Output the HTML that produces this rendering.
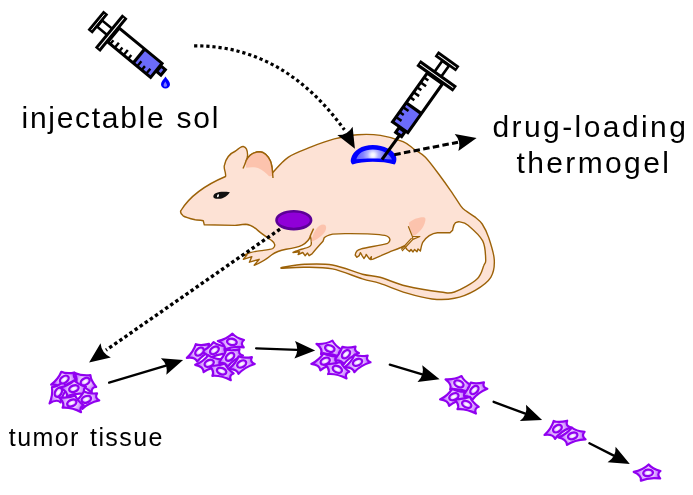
<!DOCTYPE html><html><head><meta charset="utf-8"><style>html,body{margin:0;padding:0;background:#fff;}svg{display:block;will-change:transform;}text{font-family:"Liberation Sans",sans-serif;fill:#000;}</style></head><body>
<svg width="693" height="495" viewBox="0 0 693 495">
<defs>
<radialGradient id="cellg" gradientUnits="userSpaceOnUse" cx="0" cy="0" r="13"><stop offset="0" stop-color="#fff"/><stop offset="0.45" stop-color="#e8c4ff"/><stop offset="1" stop-color="#b050ff"/></radialGradient>
<radialGradient id="nucg" cx="50%" cy="50%" r="50%"><stop offset="0" stop-color="#fff"/><stop offset="0.35" stop-color="#f6eaff"/><stop offset="1" stop-color="#c27cff"/></radialGradient>
<radialGradient id="gelg" gradientUnits="userSpaceOnUse" cx="373" cy="155" r="17"><stop offset="0" stop-color="#fff"/><stop offset="0.12" stop-color="#f0f0ff"/><stop offset="0.32" stop-color="#b4b4ff"/><stop offset="0.6" stop-color="#8282ff"/><stop offset="1" stop-color="#6262ff"/></radialGradient>
<radialGradient id="tumg" cx="50%" cy="50%" r="50%"><stop offset="0" stop-color="#9a00e0"/><stop offset="1" stop-color="#8800d0"/></radialGradient>
</defs>
<path d="M181,210.5 C188,199 203,186 225.5,176.5 C226.5,173 223,168 224.5,165 C226,158 231,153 235.6,151 C239,148 241.5,146.3 243.3,146.5 C246,147 247.5,150 247.6,155 C247.5,157 247,159 246.1,160.7 C248.5,156 253,152 259.9,151.8 C264,152 268,156 270.6,161.4 C272,165 272.5,169 272.7,172.7 C275.3,170.1 281.7,161.6 288.1,157.3 C294.5,153.0 303.5,150.0 311.2,146.9 C318.9,143.8 326.6,140.9 334.3,138.9 C342.0,136.9 349.7,135.3 357.4,134.7 C365.1,134.1 372.9,134.2 380.5,135.4 C388.1,136.6 397.4,139.3 403,141.6 C408.6,143.9 410.5,146.6 414.2,149.2 C417.9,151.8 421.0,152.8 425.4,157.3 C429.8,161.9 436.3,170.9 440.5,176.5 C444.7,182.1 447.2,185.7 450.6,190.6 C454.0,195.5 458.2,202.4 460.7,205.8 C463.2,209.2 463.4,209.0 465.8,210.8 C468.2,212.7 472.1,214.7 474.8,216.9 C477.5,219.1 479.9,220.5 482.2,224 C484.5,227.5 486.8,231.9 488.8,237.9 C490.8,243.9 494.0,253.4 494.3,260 C494.6,266.6 494.0,272.2 490.8,277.3 C487.6,282.4 481.2,286.8 475.2,290.3 C469.1,293.8 461.7,296.9 454.5,298.3 C447.3,299.8 440.1,299.9 432,299 C423.9,298.1 414.7,295.5 406,292.9 C397.3,290.3 387.3,285.7 380,283.4 C372.7,281.1 370.3,281.3 362.4,278.9 C354.5,276.5 342.0,270.8 332.4,268.9 C322.8,267.0 313.2,267.4 304.6,267.3 C296.0,267.2 284.9,268.1 281,268.2 L281,267.6 C284.9,267.1 296.0,264.7 304.6,264.3 C313.2,263.9 322.8,263.4 332.4,265 C342.0,266.6 354.5,272.1 362.4,274.2 C370.3,276.2 372.7,275.3 380,277.3 C387.3,279.3 395.9,283.6 406,286 C416.1,288.4 432.5,291.0 440.6,292 C448.7,293.0 448.4,294.2 454.5,292 C460.6,289.8 472.1,283.5 477,279 C481.9,274.5 482.4,268.4 483.9,265.2 C485.3,261.9 485.9,263.6 485.7,259.5 C485.5,255.4 485.6,246.6 482.7,240.9 C479.8,235.2 471.8,228.4 468,225.2 C464.2,222.0 461.8,222.3 459.7,221.9 C457.6,221.5 456.3,222.5 455.6,222.6 C453,225 453,229 452.6,230.2 L450,232.7 L437.4,232.7 C432,233 426,237 422.7,242.3 C421.5,245 421,248 420.4,251 L418,249 L417,251.8 L414.5,249.5 L413,252 L411,249.5 L409.5,251.5 L407,249.5 L404.3,245.8 L400.8,247.5 C396,249.5 392,251 389.3,252.1 C386,253.5 383,255 380,256.2 L373.1,259.1 L370.8,259.6 L371.4,256.8 L369.6,259.1 L367.9,256.8 L366.2,254.4 L365.6,256.2 L363.9,258.5 L362.1,255.6 L360.4,252.7 L359.2,255.6 L356.9,257.3 L355.2,255 C355.5,253 356,252 356.9,251 C358,250 359,249.5 360.4,249.2 C368,247 378,246 387.7,243.3 C391,241 391,237 384.8,235.4 C378,234 360,233.5 345,233.6 L332.7,234.1 C329,235 326,236 324.2,237.7 L323,241.2 C319,245.5 315,250 312,253.9 L309.1,255.7 L307.5,253 L305.1,255.7 L302.8,252.5 L298.1,254.5 L299.5,251.8 L293,252.5 L296.4,251 C299,250 301,249.2 303.3,248.7 C306,248 309.5,247.5 311,245 C312,242 311,239 310.3,236 C309.5,239.5 306,243 302.2,245.2 C298,247.5 292,248.5 286,249.3 C280,250.5 275,252.5 271.8,254.8 C268,258 263,262 254.2,265.3 L259.2,259.3 L249.4,262.2 L251.8,256.6 L243.4,259.3 L247,254.8 L243.8,255.2 L250.2,252.7 C254,251.5 258,251 261.3,250.6 C266,250 271,249.5 272.8,248.5 C276,246 275,243 271.8,240.6 C268,238 262,234 258.1,230.6 C254,227 250,224.5 245.5,224.3 C240,224.5 238,225.4 235,225.4 L204.3,224.8 L203.3,220.8 C200,220 197,220 195.2,219.8 C190,218.5 185,217 183.1,215.8 C181,214 180,212 181,210.5 Z" fill="#fde2d5" stroke="#9c6208" stroke-width="1.4" stroke-linejoin="round"/>
<path d="M246.1,167.8 L246.1,160.7 C248.5,156 253,152 259.9,151.8 C264,152 268,156 270.6,161.4 C272,165 272.5,170 272.7,176 L269.1,176.3 C266,173 262,169.5 258,168 C254,166.8 250,167 246.1,167.8 Z" fill="#fcc3ad"/>
<path d="M246.1,160.7 C248.5,156 253,152 259.9,151.8 C264,152 268,156 270.6,161.4 C272,165 272.5,170 273,178" fill="none" stroke="#9c6208" stroke-width="1.4"/>
<path d="M246.1,160.7 C245,164 244,166.5 243,168.5" fill="none" stroke="#9c6208" stroke-width="1.4"/>
<path d="M311.5,242 C312,236 315,229 319.5,225.8 C323,223.5 327,224.5 326,229 C325,233.5 319,238.5 311.5,242 Z" fill="#fcc3ad"/>
<path d="M408.8,223 C412,219.5 419,217 424,217.3 C426.5,218 425.5,222 423,227 C420.5,231 416.5,235 413,235.8 C411,232 409.3,227 408.8,223 Z" fill="#fcc3ad"/>
<path d="M313.6,228.6 C312.5,231 311,234 310.3,236" fill="none" stroke="#9c6208" stroke-width="1.4"/>
<path d="M408.3,226.2 L412.4,236.5 L419.9,236.5 L412.9,239.4 L402,251 M412.4,236.5 L412.9,239.4 M411.6,238.2 L401.2,249.5" fill="none" stroke="#9c6208" stroke-width="1.2" stroke-linejoin="round"/>
<path d="M213.3,196.2 C214,192.6 219.5,190.9 229.9,192.2 C227.5,195.6 224,198.6 219,198.8 C215.5,199 213.1,198.2 213.3,196.2 Z" fill="#111"/>
<ellipse cx="218" cy="195.8" rx="0.9" ry="1.6" fill="#fff" transform="rotate(20 218 195.8)"/>
<ellipse cx="293.8" cy="220.2" rx="17.3" ry="8.9" fill="#9000d8" stroke="#5c0096" stroke-width="2.6"/>
<path d="M351,158.8 C353,150 362,145 372.8,144.9 C384,145 394,150 396,156.5 C397,160 396,163 394.5,164.6 C388,162.5 380,161.8 372.8,161.8 C365,161.8 358,162.8 352.5,164.6 C350.5,163 350.5,160.5 351,158.8 Z" fill="#0000ff"/>
<path d="M356.3,159.3 C358,153 364,149.4 372.8,149.4 C382,149.4 389,153 392,159.6 C386,158.8 380,158.4 372.8,158.4 C366,158.4 360,158.8 356.3,159.3 Z" fill="url(#gelg)"/>
<g transform="translate(157.5,71.3) rotate(39.5) scale(1.0)">
<rect x="-57.0" y="-9" width="55.5" height="18" fill="#fff"/>
<rect x="-24" y="-9" width="22.5" height="18" fill="#6b6bfa"/>
<line x1="-7.2" y1="9" x2="-7.2" y2="2.5" stroke="#000" stroke-width="2.4"/>
<line x1="-13" y1="9" x2="-13" y2="4" stroke="#000" stroke-width="2.4"/>
<line x1="-18.8" y1="9" x2="-18.8" y2="2.5" stroke="#000" stroke-width="2.4"/>
<line x1="-30.6" y1="9" x2="-30.6" y2="4" stroke="#000" stroke-width="2.4"/>
<line x1="-36.4" y1="9" x2="-36.4" y2="2.5" stroke="#000" stroke-width="2.4"/>
<line x1="-42.2" y1="9" x2="-42.2" y2="4" stroke="#000" stroke-width="2.4"/>
<line x1="-48" y1="9" x2="-48" y2="2.5" stroke="#000" stroke-width="2.4"/>
<line x1="-53.8" y1="9" x2="-53.8" y2="4" stroke="#000" stroke-width="2.4"/>
<line x1="-24" y1="-9" x2="-24" y2="9" stroke="#000" stroke-width="3.2"/>
<rect x="-57.0" y="-9" width="55.5" height="18" fill="none" stroke="#000" stroke-width="3"/>
<rect x="-0.5" y="-6.3" width="5.5" height="7" fill="#6b6bfa" stroke="#000" stroke-width="3"/>
<rect x="-75.0" y="-4" width="16" height="8" fill="#fff" stroke="#000" stroke-width="2.6"/>
<rect x="-63.5" y="-21.5" width="7" height="43" fill="#000"/>
<line x1="-60.0" y1="-19.5" x2="-60.0" y2="19.5" stroke="#fff" stroke-width="1"/>
<rect x="-80.4" y="-12.5" width="6.3" height="25" fill="#000"/>
<line x1="-77.25" y1="-10.3" x2="-77.25" y2="10.3" stroke="#fff" stroke-width="0.9"/>
</g>
<g transform="translate(399.3,128.5) rotate(125.4) scale(1.04)">
<rect x="-59.0" y="-9" width="57.5" height="18" fill="#fff"/>
<rect x="-24" y="-9" width="22.5" height="18" fill="#6b6bfa"/>
<line x1="-7.2" y1="9" x2="-7.2" y2="2.5" stroke="#000" stroke-width="2.4"/>
<line x1="-13" y1="9" x2="-13" y2="4" stroke="#000" stroke-width="2.4"/>
<line x1="-18.8" y1="9" x2="-18.8" y2="2.5" stroke="#000" stroke-width="2.4"/>
<line x1="-30.6" y1="9" x2="-30.6" y2="4" stroke="#000" stroke-width="2.4"/>
<line x1="-36.4" y1="9" x2="-36.4" y2="2.5" stroke="#000" stroke-width="2.4"/>
<line x1="-42.2" y1="9" x2="-42.2" y2="4" stroke="#000" stroke-width="2.4"/>
<line x1="-48" y1="9" x2="-48" y2="2.5" stroke="#000" stroke-width="2.4"/>
<line x1="-53.8" y1="9" x2="-53.8" y2="4" stroke="#000" stroke-width="2.4"/>
<line x1="-24" y1="-9" x2="-24" y2="9" stroke="#000" stroke-width="3.2"/>
<rect x="-59.0" y="-9" width="57.5" height="18" fill="none" stroke="#000" stroke-width="3"/>
<rect x="-0.5" y="-6.3" width="5.5" height="7" fill="#6b6bfa" stroke="#000" stroke-width="3"/>
<rect x="-77.0" y="-4" width="16" height="8" fill="#fff" stroke="#000" stroke-width="2.6"/>
<rect x="-65.5" y="-21.5" width="7" height="43" fill="#000"/>
<line x1="-62.0" y1="-19.5" x2="-62.0" y2="19.5" stroke="#fff" stroke-width="1"/>
<rect x="-82.4" y="-12.5" width="6.3" height="25" fill="#000"/>
<line x1="-79.25" y1="-10.3" x2="-79.25" y2="10.3" stroke="#fff" stroke-width="0.9"/>
</g>
<line x1="400.5" y1="134" x2="382" y2="159.5" stroke="#000" stroke-width="3"/>
<path d="M165.5,76.5 C167,79 170,81.5 170,84.2 C170,86.8 168,88.4 165.5,88.4 C163,88.4 161,86.8 161,84.2 C161,81.5 164,79 165.5,76.5 Z" fill="#0000ff"/>
<path d="M165.3,81.5 C166,83 167,84 167,85.2 C167,86.2 166.2,86.8 165.3,86.8 C164.4,86.8 163.6,86.2 163.6,85.2 C163.6,84 164.6,83 165.3,81.5 Z" fill="#7a7aff"/>
<path d="M194.1,45.8 C259,45.5 307.5,78.9 344.4,129.8" fill="none" stroke="#000" stroke-width="3.2" stroke-dasharray="3.2 2.9"/>
<path transform="translate(354.9,148.8) rotate(61)" d="M0,0 L-20.5,-8.75 Q-15.375,0 -20.5,8.75 Z" fill="#000"/>
<line x1="394.3" y1="154.7" x2="458" y2="142.3" stroke="#000" stroke-width="3" stroke-dasharray="6.5 3.3"/>
<path transform="translate(476.6,138.1) rotate(-12.3)" d="M0,0 L-20.5,-8.75 Q-15.375,0 -20.5,8.75 Z" fill="#000"/>
<line x1="280" y1="229.1" x2="106" y2="350.2" stroke="#000" stroke-width="3.4" stroke-dasharray="3.4 2.8"/>
<path transform="translate(89.1,362.4) rotate(144)" d="M0,0 L-20.5,-8.75 Q-15.375,0 -20.5,8.75 Z" fill="#000"/>
<line x1="109.1" y1="382.6" x2="166.0" y2="365.7" stroke="#000" stroke-width="2.3" stroke-linecap="round"/>
<path transform="translate(183.1,360.1) rotate(-18.2)" d="M0,0 L-20.5,-8.75 Q-15.375,0 -20.5,8.75 Z" fill="#000"/>
<line x1="256.1" y1="348.3" x2="297.2" y2="349.8" stroke="#000" stroke-width="2.3" stroke-linecap="round"/>
<path transform="translate(315.2,350.4) rotate(2)" d="M0,0 L-20.5,-8.75 Q-15.375,0 -20.5,8.75 Z" fill="#000"/>
<line x1="389.8" y1="364.6" x2="422.3" y2="374.3" stroke="#000" stroke-width="2.3" stroke-linecap="round"/>
<path transform="translate(439.6,379.2) rotate(15.8)" d="M0,0 L-20.5,-8.75 Q-15.375,0 -20.5,8.75 Z" fill="#000"/>
<line x1="493.6" y1="401.8" x2="525.3" y2="413.7" stroke="#000" stroke-width="2.3" stroke-linecap="round"/>
<path transform="translate(542.1,420.1) rotate(20.7)" d="M0,0 L-20.5,-8.75 Q-15.375,0 -20.5,8.75 Z" fill="#000"/>
<line x1="589.4" y1="443.3" x2="613.8" y2="455.6" stroke="#000" stroke-width="2.3" stroke-linecap="round"/>
<path transform="translate(629.8,463.9) rotate(27.3)" d="M0,0 L-20.5,-8.75 Q-15.375,0 -20.5,8.75 Z" fill="#000"/>
<path transform="translate(64.3,379.5) rotate(-25) scale(0.94)" d="M0.6,-8.8 Q4,-4.5 12.9,-2 Q8.5,1.5 12.6,5.8 Q1,4.2 -7.5,8.1 Q-6.5,2.5 -15,-1 Q-5.5,-3 0.6,-8.8 Z" fill="url(#cellg)" stroke="#9000f0" stroke-width="2.3" stroke-linejoin="round"/>
<path transform="translate(85.2,381.6) rotate(35) scale(0.94)" d="M0.6,-8.8 Q4,-4.5 12.9,-2 Q8.5,1.5 12.6,5.8 Q1,4.2 -7.5,8.1 Q-6.5,2.5 -15,-1 Q-5.5,-3 0.6,-8.8 Z" fill="url(#cellg)" stroke="#9000f0" stroke-width="2.3" stroke-linejoin="round"/>
<path transform="translate(58.4,392.3) rotate(-55) scale(0.94)" d="M0.6,-8.8 Q4,-4.5 12.9,-2 Q8.5,1.5 12.6,5.8 Q1,4.2 -7.5,8.1 Q-6.5,2.5 -15,-1 Q-5.5,-3 0.6,-8.8 Z" fill="url(#cellg)" stroke="#9000f0" stroke-width="2.3" stroke-linejoin="round"/>
<path transform="translate(73.9,388.6) rotate(0) scale(0.94)" d="M0.6,-8.8 Q4,-4.5 12.9,-2 Q8.5,1.5 12.6,5.8 Q1,4.2 -7.5,8.1 Q-6.5,2.5 -15,-1 Q-5.5,-3 0.6,-8.8 Z" fill="url(#cellg)" stroke="#9000f0" stroke-width="2.3" stroke-linejoin="round"/>
<path transform="translate(86.3,399.3) rotate(-20) scale(0.94)" d="M0.6,-8.8 Q4,-4.5 12.9,-2 Q8.5,1.5 12.6,5.8 Q1,4.2 -7.5,8.1 Q-6.5,2.5 -15,-1 Q-5.5,-3 0.6,-8.8 Z" fill="url(#cellg)" stroke="#9000f0" stroke-width="2.3" stroke-linejoin="round"/>
<path transform="translate(71.8,403) rotate(20) scale(0.94)" d="M0.6,-8.8 Q4,-4.5 12.9,-2 Q8.5,1.5 12.6,5.8 Q1,4.2 -7.5,8.1 Q-6.5,2.5 -15,-1 Q-5.5,-3 0.6,-8.8 Z" fill="url(#cellg)" stroke="#9000f0" stroke-width="2.3" stroke-linejoin="round"/>
<ellipse transform="translate(64.3,379.5) rotate(-35)" cx="0" cy="0" rx="4.9" ry="3.2" fill="url(#nucg)" stroke="#9000f0" stroke-width="2.3"/>
<ellipse transform="translate(85.2,381.6) rotate(-30)" cx="0" cy="0" rx="4.9" ry="3.2" fill="url(#nucg)" stroke="#9000f0" stroke-width="2.3"/>
<ellipse transform="translate(58.4,392.3) rotate(-60)" cx="0" cy="0" rx="4.9" ry="3.2" fill="url(#nucg)" stroke="#9000f0" stroke-width="2.3"/>
<ellipse transform="translate(73.9,388.6) rotate(-20)" cx="0" cy="0" rx="4.9" ry="3.2" fill="url(#nucg)" stroke="#9000f0" stroke-width="2.3"/>
<ellipse transform="translate(86.3,399.3) rotate(-20)" cx="0" cy="0" rx="4.9" ry="3.2" fill="url(#nucg)" stroke="#9000f0" stroke-width="2.3"/>
<ellipse transform="translate(71.8,403) rotate(-25)" cx="0" cy="0" rx="4.9" ry="3.2" fill="url(#nucg)" stroke="#9000f0" stroke-width="2.3"/>
<path transform="translate(199.5,351.6) rotate(-30) scale(0.94)" d="M0.6,-8.8 Q4,-4.5 12.9,-2 Q8.5,1.5 12.6,5.8 Q1,4.2 -7.5,8.1 Q-6.5,2.5 -15,-1 Q-5.5,-3 0.6,-8.8 Z" fill="url(#cellg)" stroke="#9000f0" stroke-width="2.3" stroke-linejoin="round"/>
<path transform="translate(214.4,350.3) rotate(-10) scale(0.94)" d="M0.6,-8.8 Q4,-4.5 12.9,-2 Q8.5,1.5 12.6,5.8 Q1,4.2 -7.5,8.1 Q-6.5,2.5 -15,-1 Q-5.5,-3 0.6,-8.8 Z" fill="url(#cellg)" stroke="#9000f0" stroke-width="2.3" stroke-linejoin="round"/>
<path transform="translate(231.9,341.9) rotate(0) scale(0.94)" d="M0.6,-8.8 Q4,-4.5 12.9,-2 Q8.5,1.5 12.6,5.8 Q1,4.2 -7.5,8.1 Q-6.5,2.5 -15,-1 Q-5.5,-3 0.6,-8.8 Z" fill="url(#cellg)" stroke="#9000f0" stroke-width="2.3" stroke-linejoin="round"/>
<path transform="translate(230,356.8) rotate(-30) scale(0.94)" d="M0.6,-8.8 Q4,-4.5 12.9,-2 Q8.5,1.5 12.6,5.8 Q1,4.2 -7.5,8.1 Q-6.5,2.5 -15,-1 Q-5.5,-3 0.6,-8.8 Z" fill="url(#cellg)" stroke="#9000f0" stroke-width="2.3" stroke-linejoin="round"/>
<path transform="translate(209.2,363.3) rotate(-10) scale(0.94)" d="M0.6,-8.8 Q4,-4.5 12.9,-2 Q8.5,1.5 12.6,5.8 Q1,4.2 -7.5,8.1 Q-6.5,2.5 -15,-1 Q-5.5,-3 0.6,-8.8 Z" fill="url(#cellg)" stroke="#9000f0" stroke-width="2.3" stroke-linejoin="round"/>
<path transform="translate(221.6,371.1) rotate(20) scale(0.94)" d="M0.6,-8.8 Q4,-4.5 12.9,-2 Q8.5,1.5 12.6,5.8 Q1,4.2 -7.5,8.1 Q-6.5,2.5 -15,-1 Q-5.5,-3 0.6,-8.8 Z" fill="url(#cellg)" stroke="#9000f0" stroke-width="2.3" stroke-linejoin="round"/>
<path transform="translate(241.7,364) rotate(-25) scale(0.94)" d="M0.6,-8.8 Q4,-4.5 12.9,-2 Q8.5,1.5 12.6,5.8 Q1,4.2 -7.5,8.1 Q-6.5,2.5 -15,-1 Q-5.5,-3 0.6,-8.8 Z" fill="url(#cellg)" stroke="#9000f0" stroke-width="2.3" stroke-linejoin="round"/>
<ellipse transform="translate(199.5,351.6) rotate(-40)" cx="0" cy="0" rx="4.9" ry="3.2" fill="url(#nucg)" stroke="#9000f0" stroke-width="2.3"/>
<ellipse transform="translate(214.4,350.3) rotate(-35)" cx="0" cy="0" rx="4.9" ry="3.2" fill="url(#nucg)" stroke="#9000f0" stroke-width="2.3"/>
<ellipse transform="translate(231.9,341.9) rotate(10)" cx="0" cy="0" rx="4.9" ry="3.2" fill="url(#nucg)" stroke="#9000f0" stroke-width="2.3"/>
<ellipse transform="translate(230,356.8) rotate(-40)" cx="0" cy="0" rx="4.9" ry="3.2" fill="url(#nucg)" stroke="#9000f0" stroke-width="2.3"/>
<ellipse transform="translate(209.2,363.3) rotate(-25)" cx="0" cy="0" rx="4.9" ry="3.2" fill="url(#nucg)" stroke="#9000f0" stroke-width="2.3"/>
<ellipse transform="translate(221.6,371.1) rotate(20)" cx="0" cy="0" rx="4.9" ry="3.2" fill="url(#nucg)" stroke="#9000f0" stroke-width="2.3"/>
<ellipse transform="translate(241.7,364) rotate(-30)" cx="0" cy="0" rx="4.9" ry="3.2" fill="url(#nucg)" stroke="#9000f0" stroke-width="2.3"/>
<path transform="translate(329.8,348.5) rotate(15) scale(0.94)" d="M0.6,-8.8 Q4,-4.5 12.9,-2 Q8.5,1.5 12.6,5.8 Q1,4.2 -7.5,8.1 Q-6.5,2.5 -15,-1 Q-5.5,-3 0.6,-8.8 Z" fill="url(#cellg)" stroke="#9000f0" stroke-width="2.3" stroke-linejoin="round"/>
<path transform="translate(346,354.2) rotate(-30) scale(0.94)" d="M0.6,-8.8 Q4,-4.5 12.9,-2 Q8.5,1.5 12.6,5.8 Q1,4.2 -7.5,8.1 Q-6.5,2.5 -15,-1 Q-5.5,-3 0.6,-8.8 Z" fill="url(#cellg)" stroke="#9000f0" stroke-width="2.3" stroke-linejoin="round"/>
<path transform="translate(325.2,361.2) rotate(-15) scale(0.94)" d="M0.6,-8.8 Q4,-4.5 12.9,-2 Q8.5,1.5 12.6,5.8 Q1,4.2 -7.5,8.1 Q-6.5,2.5 -15,-1 Q-5.5,-3 0.6,-8.8 Z" fill="url(#cellg)" stroke="#9000f0" stroke-width="2.3" stroke-linejoin="round"/>
<path transform="translate(337.3,369.3) rotate(20) scale(0.94)" d="M0.6,-8.8 Q4,-4.5 12.9,-2 Q8.5,1.5 12.6,5.8 Q1,4.2 -7.5,8.1 Q-6.5,2.5 -15,-1 Q-5.5,-3 0.6,-8.8 Z" fill="url(#cellg)" stroke="#9000f0" stroke-width="2.3" stroke-linejoin="round"/>
<path transform="translate(357.5,362.3) rotate(-25) scale(0.94)" d="M0.6,-8.8 Q4,-4.5 12.9,-2 Q8.5,1.5 12.6,5.8 Q1,4.2 -7.5,8.1 Q-6.5,2.5 -15,-1 Q-5.5,-3 0.6,-8.8 Z" fill="url(#cellg)" stroke="#9000f0" stroke-width="2.3" stroke-linejoin="round"/>
<ellipse transform="translate(329.8,348.5) rotate(20)" cx="0" cy="0" rx="4.9" ry="3.2" fill="url(#nucg)" stroke="#9000f0" stroke-width="2.3"/>
<ellipse transform="translate(346,354.2) rotate(-45)" cx="0" cy="0" rx="4.9" ry="3.2" fill="url(#nucg)" stroke="#9000f0" stroke-width="2.3"/>
<ellipse transform="translate(325.2,361.2) rotate(-25)" cx="0" cy="0" rx="4.9" ry="3.2" fill="url(#nucg)" stroke="#9000f0" stroke-width="2.3"/>
<ellipse transform="translate(337.3,369.3) rotate(25)" cx="0" cy="0" rx="4.9" ry="3.2" fill="url(#nucg)" stroke="#9000f0" stroke-width="2.3"/>
<ellipse transform="translate(357.5,362.3) rotate(-25)" cx="0" cy="0" rx="4.9" ry="3.2" fill="url(#nucg)" stroke="#9000f0" stroke-width="2.3"/>
<path transform="translate(458.9,383.9) rotate(15) scale(0.94)" d="M0.6,-8.8 Q4,-4.5 12.9,-2 Q8.5,1.5 12.6,5.8 Q1,4.2 -7.5,8.1 Q-6.5,2.5 -15,-1 Q-5.5,-3 0.6,-8.8 Z" fill="url(#cellg)" stroke="#9000f0" stroke-width="2.3" stroke-linejoin="round"/>
<path transform="translate(474.4,390) rotate(-30) scale(0.94)" d="M0.6,-8.8 Q4,-4.5 12.9,-2 Q8.5,1.5 12.6,5.8 Q1,4.2 -7.5,8.1 Q-6.5,2.5 -15,-1 Q-5.5,-3 0.6,-8.8 Z" fill="url(#cellg)" stroke="#9000f0" stroke-width="2.3" stroke-linejoin="round"/>
<path transform="translate(453.9,396.7) rotate(-15) scale(0.94)" d="M0.6,-8.8 Q4,-4.5 12.9,-2 Q8.5,1.5 12.6,5.8 Q1,4.2 -7.5,8.1 Q-6.5,2.5 -15,-1 Q-5.5,-3 0.6,-8.8 Z" fill="url(#cellg)" stroke="#9000f0" stroke-width="2.3" stroke-linejoin="round"/>
<path transform="translate(466.7,404.4) rotate(20) scale(0.94)" d="M0.6,-8.8 Q4,-4.5 12.9,-2 Q8.5,1.5 12.6,5.8 Q1,4.2 -7.5,8.1 Q-6.5,2.5 -15,-1 Q-5.5,-3 0.6,-8.8 Z" fill="url(#cellg)" stroke="#9000f0" stroke-width="2.3" stroke-linejoin="round"/>
<ellipse transform="translate(458.9,383.9) rotate(25)" cx="0" cy="0" rx="4.9" ry="3.2" fill="url(#nucg)" stroke="#9000f0" stroke-width="2.3"/>
<ellipse transform="translate(474.4,390) rotate(-45)" cx="0" cy="0" rx="4.9" ry="3.2" fill="url(#nucg)" stroke="#9000f0" stroke-width="2.3"/>
<ellipse transform="translate(453.9,396.7) rotate(-25)" cx="0" cy="0" rx="4.9" ry="3.2" fill="url(#nucg)" stroke="#9000f0" stroke-width="2.3"/>
<ellipse transform="translate(466.7,404.4) rotate(25)" cx="0" cy="0" rx="4.9" ry="3.2" fill="url(#nucg)" stroke="#9000f0" stroke-width="2.3"/>
<path transform="translate(557.4,428.6) rotate(-30) scale(0.96)" d="M0.6,-8.8 Q4,-4.5 12.9,-2 Q8.5,1.5 12.6,5.8 Q1,4.2 -7.5,8.1 Q-6.5,2.5 -15,-1 Q-5.5,-3 0.6,-8.8 Z" fill="url(#cellg)" stroke="#9000f0" stroke-width="2.3" stroke-linejoin="round"/>
<path transform="translate(572.7,435.9) rotate(-10) scale(0.96)" d="M0.6,-8.8 Q4,-4.5 12.9,-2 Q8.5,1.5 12.6,5.8 Q1,4.2 -7.5,8.1 Q-6.5,2.5 -15,-1 Q-5.5,-3 0.6,-8.8 Z" fill="url(#cellg)" stroke="#9000f0" stroke-width="2.3" stroke-linejoin="round"/>
<ellipse transform="translate(557.4,428.6) rotate(-35)" cx="0" cy="0" rx="4.9" ry="3.2" fill="url(#nucg)" stroke="#9000f0" stroke-width="2.3"/>
<ellipse transform="translate(572.7,435.9) rotate(-20)" cx="0" cy="0" rx="4.9" ry="3.2" fill="url(#nucg)" stroke="#9000f0" stroke-width="2.3"/>
<path transform="translate(648.1,472.9) rotate(0) scale(0.96)" d="M0.6,-8.8 Q4,-4.5 12.9,-2 Q8.5,1.5 12.6,5.8 Q1,4.2 -7.5,8.1 Q-6.5,2.5 -15,-1 Q-5.5,-3 0.6,-8.8 Z" fill="url(#cellg)" stroke="#9000f0" stroke-width="2.3" stroke-linejoin="round"/>
<ellipse transform="translate(648.1,472.9) rotate(-8)" cx="0" cy="0" rx="4.9" ry="3.2" fill="url(#nucg)" stroke="#9000f0" stroke-width="2.3"/>
<text x="21.6" y="128" font-size="30" letter-spacing="1.7" word-spacing="1.2">injectable sol</text>
<text x="492.4" y="137" font-size="30" letter-spacing="2.43">drug-loading</text>
<text x="516.5" y="172.9" font-size="30" letter-spacing="2.37">thermogel</text>
<text x="8.8" y="445.5" font-size="25" letter-spacing="1.4" word-spacing="2">tumor tissue</text>
</svg></body></html>
